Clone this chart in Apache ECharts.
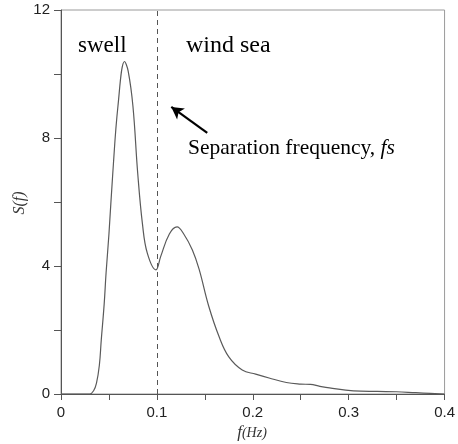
<!DOCTYPE html>
<html>
<head>
<meta charset="utf-8">
<script src="https://cdn.jsdelivr.net/npm/echarts@6/dist/echarts.min.js"></script>
<style>html,body{margin:0;padding:0;background:#fff}#c{width:458px;height:444px}</style>
</head>
<body>
<div id="c"></div>
<script>
// Frequency (Hz) and spectral density S(f)
var freq = [0, 0.020, 0.030, 0.034, 0.037, 0.040, 0.042, 0.045, 0.047, 0.050, 0.054, 0.0594, 0.0663, 0.070, 0.075, 0.080, 0.085, 0.090, 0.099, 0.104, 0.113, 0.121, 0.128, 0.137, 0.144, 0.154, 0.165, 0.175, 0.189, 0.203, 0.217, 0.235, 0.250, 0.260, 0.270, 0.280, 0.305, 0.330, 0.350, 0.370, 0.385, 0.400];
var density = [0, 0, 0, 0.1, 0.34, 0.9, 1.69, 2.8, 3.78, 5.0, 6.9, 9.0, 10.39, 10.1, 9.0, 6.9, 5.3, 4.4, 3.88, 4.3, 5.0, 5.22, 5.0, 4.5, 3.9, 2.75, 1.78, 1.16, 0.75, 0.62, 0.5, 0.36, 0.31, 0.30, 0.24, 0.19, 0.10, 0.08, 0.07, 0.04, 0.02, 0.0];
var separationFreq = 0.1;
// Arrow annotation (data coordinates): tail -> head
var arrowTail = [0.1525, 8.16];
var arrowHead = [0.115, 8.97];

var points = freq.map(function (f, i) { return [f, density[i]]; });
var serif = '"Liberation Serif", "Times New Roman", serif';

var chart = echarts.init(document.getElementById('c'));
chart.setOption({
  animation: false,
  grid: { left: 61, right: 11, top: 10, bottom: 50, show: true, borderColor: '#9a9a9a', borderWidth: 1, backgroundColor: 'transparent' },
  xAxis: {
    type: 'value', min: 0, max: 0.4, interval: 0.05,
    axisLine: { show: true, onZero: false, lineStyle: { color: '#555', width: 1 } },
    axisTick: { show: true, inside: false, length: 6, lineStyle: { color: '#555' } },
    splitLine: { show: false },
    axisLabel: {
      color: '#222', fontFamily: 'Liberation Sans, Arial, sans-serif', fontSize: 15, margin: 11,
      formatter: function (v) {
        var r = Math.round(v * 100);
        if (r % 10 !== 0) return '';
        return r === 0 ? '0' : String(r / 100);
      }
    }
  },
  yAxis: {
    type: 'value', min: 0, max: 12, interval: 2,
    axisLine: { show: true, lineStyle: { color: '#555', width: 1 } },
    axisTick: { show: true, inside: false, length: 7, lineStyle: { color: '#555' } },
    splitLine: { show: false },
    axisLabel: {
      color: '#222', fontFamily: 'Liberation Sans, Arial, sans-serif', fontSize: 15, margin: 11,
      formatter: function (v) { return (Math.round(v) % 4 === 0) ? String(v) : ''; }
    }
  },
  series: [{
    type: 'line',
    data: points,
    smooth: 0.4,
    showSymbol: false,
    lineStyle: { color: '#5a5a5a', width: 1.2 },
    markLine: {
      silent: true,
      animation: false,
      label: { show: false },
      data: [
        [{ coord: [separationFreq, 0], symbol: 'none' }, { coord: [separationFreq, 12], symbol: 'none' }],
        [{ coord: arrowTail, symbol: 'none', lineStyle: { type: 'solid', color: '#000', width: 2.2 } },
         { coord: arrowHead, symbol: 'arrow', symbolSize: [10, 12], lineStyle: { type: 'solid', color: '#000', width: 2.2 } }]
      ],
      symbol: ['none', 'none'],
      lineStyle: { type: [5, 4], color: '#555', width: 1 }
    }
  }],
  graphic: [
    { type: 'text', left: 78, top: 34, style: { text: 'swell', font: '23px ' + serif, fill: '#000' } },
    { type: 'text', left: 186, top: 34, style: { text: 'wind sea', font: '24px ' + serif, fill: '#000' } },
    { type: 'text', left: 188, top: 137, style: {
        rich: {
          a: { font: '21.5px ' + serif, fill: '#000' },
          b: { font: 'italic 21.5px ' + serif, fill: '#000' }
        },
        text: '{a|Separation frequency, }{b|fs}'
      } },
    { type: 'text', x: 20, y: 203, rotation: Math.PI / 2,
      style: { text: 'S(f)', font: 'italic 16px ' + serif, fill: '#333', align: 'center', verticalAlign: 'middle' } },
    { type: 'text', x: 252, y: 433,
      style: {
        rich: {
          a: { font: 'italic 17px ' + serif, fill: '#333' },
          b: { font: 'italic 14px ' + serif, fill: '#333' }
        },
        text: '{a|f}{b|(Hz)}', align: 'center', verticalAlign: 'middle'
      } }
  ]
});
</script>
</body>
</html>
